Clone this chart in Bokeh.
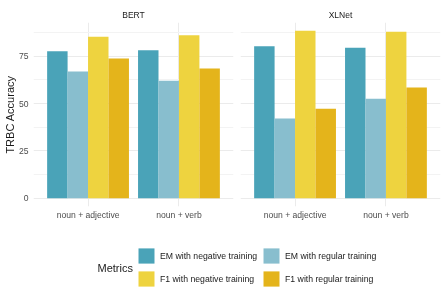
from bokeh.plotting import figure
from bokeh.layouts import column, row
from bokeh.models import (FactorRange, Range1d, FixedTicker, ColumnDataSource,
                          Legend, LegendItem, Label, InlineStyleSheet)
from bokeh.transform import dodge
from bokeh.embed import file_html
from bokeh.resources import INLINE

# ---- data ----
combos = ["noun + adjective", "noun + verb"]
metrics = ["EM with negative training", "EM with regular training",
           "F1 with negative training", "F1 with regular training"]
bert_em_neg = [77.7, 78.2]
bert_em_reg = [67.0, 62.1]
bert_f1_neg = [85.3, 86.2]
bert_f1_reg = [73.8, 68.6]
xlnet_em_neg = [80.3, 79.6]
xlnet_em_reg = [42.1, 52.6]
xlnet_f1_neg = [88.5, 88.0]
xlnet_f1_reg = [47.3, 58.5]
y_ticks = [0, 25, 50, 75]
y_minor = [12.5, 37.5, 62.5, 87.5]

colors = ["#4AA3B8", "#88BECE", "#EED33F", "#E4B41B"]
FONT = "Liberation Sans"
offsets = [-0.3375, -0.1125, 0.1125, 0.3375]
keys = ["em_neg", "em_reg", "f1_neg", "f1_reg"]


def panel(title, vals, width, left, right, show_y):
    src = ColumnDataSource(dict(x=combos, em_neg=vals[0], em_reg=vals[1],
                                f1_neg=vals[2], f1_reg=vals[3]))
    p = figure(width=width, height=222, output_backend="svg", toolbar_location=None,
               x_range=FactorRange(factors=combos, range_padding=0.1,
                                   range_padding_units="absolute"),
               y_range=Range1d(-4.43, 92.9),
               min_border_left=left, min_border_right=right,
               min_border_top=22, min_border_bottom=13)
    for k, off, c in zip(keys, offsets, colors):
        p.vbar(x=dodge("x", off, range=p.x_range), top=k, width=0.225, bottom=0,
               source=src, fill_color=c, line_color=None)
    p.outline_line_color = None
    p.title.text = title
    p.title.align = "center"
    p.title.text_font = FONT
    p.title.text_font_size = "8.5px"
    p.title.text_font_style = "normal"
    p.title.text_color = "#1A1A1A"
    p.title.standoff = 6
    ticker = FixedTicker(ticks=y_ticks, minor_ticks=y_minor)
    p.yaxis.ticker = ticker
    p.ygrid.ticker = ticker
    p.ygrid.grid_line_color = "#EBEBEB"
    p.ygrid.minor_grid_line_color = "#F3F3F3"
    p.xgrid.grid_line_color = "#EBEBEB"
    for ax in (p.xaxis[0], p.yaxis[0]):
        ax.axis_line_color = None
        ax.major_tick_line_color = None
        ax.minor_tick_line_color = None
        ax.major_tick_out = 0
        ax.major_tick_in = 0
        ax.minor_tick_out = 0
        ax.major_label_text_font = FONT
        ax.major_label_text_font_size = "8.6px"
        ax.major_label_text_color = "#4D4D4D"
    p.xaxis.major_label_standoff = 3
    p.yaxis.major_label_standoff = 5
    if show_y:
        p.yaxis.axis_label = "TRBC Accuracy"
        p.yaxis.axis_label_text_font = FONT
        p.yaxis.axis_label_text_font_size = "11px"
        p.yaxis.axis_label_text_font_style = "normal"
        p.yaxis.axis_label_text_color = "#1A1A1A"
        p.yaxis.axis_label_standoff = 0
    else:
        p.yaxis.visible = False
    return p


p1 = panel("BERT", [bert_em_neg, bert_em_reg, bert_f1_neg, bert_f1_reg], 237, 33, 4, True)
p2 = panel("XLNet", [xlnet_em_neg, xlnet_em_reg, xlnet_f1_neg, xlnet_f1_reg], 210, 3, 7, False)

# ---- legend panel ----
p3 = figure(width=447, height=68, output_backend="svg", toolbar_location=None,
            x_range=Range1d(0, 447), y_range=Range1d(0, 68), min_border=0)
p3.axis.visible = False
p3.grid.visible = False
p3.outline_line_color = None
offscreen = ColumnDataSource(dict(x=[-1000], top=[0]))
items = []
for m, c in zip(metrics, colors):
    r = p3.vbar(x="x", top="top", width=1, source=offscreen, fill_color=c, line_color=None)
    items.append(LegendItem(label=m, renderers=[r]))
leg = Legend(items=items, location=(136, 2), orientation="horizontal", ncols=2,
             glyph_width=20, glyph_height=19, label_height=19, label_standoff=4,
             spacing=4, padding=0, margin=0, border_line_color=None,
             background_fill_alpha=0, label_text_font=FONT,
             label_text_font_size="8.7px", label_text_color="#1A1A1A")
p3.add_layout(leg, "center")
p3.add_layout(Label(x=97, y=23, text="Metrics", text_font=FONT, text_font_size="11px",
                    text_color="#1A1A1A", text_baseline="middle"))

pin = InlineStyleSheet(css=":host { position: fixed !important; left: 0px !important; top: 0px !important; }")
layout = column(row(p1, p2, spacing=0), p3, spacing=0, stylesheets=[pin])
open("out.html", "w").write(file_html(layout, INLINE))
